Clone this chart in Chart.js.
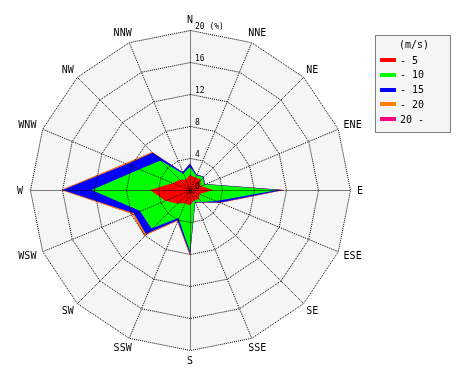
<!DOCTYPE html>
<html>
<head>
<meta charset="utf-8">
<script src="https://cdn.jsdelivr.net/npm/chart.js@4/dist/chart.umd.min.js"></script>
<style>
  body { margin: 0; background: #fff; }
  #wrap { width: 470px; height: 380px; }
</style>
</head>
<body>
<div id="wrap"><canvas id="rose" width="470" height="380"></canvas></div>
<script>
// Wind directions, clockwise from north
const directions = ["N", "NNE", "NE", "ENE", "E", "ESE", "SE", "SSE", "S", "SSW", "SW", "WSW", "W", "WNW", "NW", "NNW"]

// Speed classes (m/s) and their colours
const speedLabels = ["- 5", "- 10", "- 15", "- 20", "20 -"]
const speedColors = ["#ff0000", "#00ff00", "#0000ff", "#ff8000", "#ff0080"]

// Cumulative frequency (%) per direction
const upTo5 = [1.9, 1.7, 1.9, 1.4, 2.9, 1.3, 1.6, 1.4, 1.9, 1.8, 2.4, 3.4, 5.0, 2.3, 1.8, 1.4]
const upTo10 = [2.9, 2.0, 2.3, 1.9, 11.0, 3.6, 2.1, 1.6, 7.7, 3.8, 6.8, 6.8, 12.3, 6.8, 5.2, 2.2]
const upTo15 = [3.3, 2.1, 2.4, 2.0, 11.6, 4.1, 2.2, 1.7, 8.0, 4.1, 7.8, 7.6, 15.9, 8.5, 6.6, 2.4]
const upTo20 = [3.3, 2.1, 2.4, 2.0, 11.8, 4.2, 2.2, 1.7, 8.2, 4.2, 8.1, 7.8, 16.1, 8.7, 6.7, 2.4]
const above20 = [3.3, 2.1, 2.4, 2.0, 11.8, 4.2, 2.2, 1.7, 8.2, 4.2, 8.1, 7.8, 16.1, 8.7, 6.7, 2.4]

// Radial axis tick labels
const tickValues = [0, 4, 8, 12, 16, 20]

const series = [upTo5, upTo10, upTo15, upTo20, above20]
const MONO = '"DejaVu Sans Mono", monospace'

// Light gray plot face under the data; grid drawn on top gets a half-pixel shift so the dots stay crisp
const faceBackground = {
  id: "faceBackground",
  beforeDatasetsDraw(chart) {
    const r = chart.scales.r
    const ctx = chart.ctx
    ctx.save()
    ctx.beginPath()
    directions.forEach((d, i) => {
      const p = r.getPointPosition(i, r.drawingArea)
      if (i === 0) ctx.moveTo(p.x, p.y)
      else ctx.lineTo(p.x, p.y)
    })
    ctx.closePath()
    ctx.fillStyle = "#f5f5f5"
    ctx.fill()
    ctx.restore()
  },
  afterDatasetsDraw(chart) {
    chart.ctx.save()
    chart.ctx.translate(0.5, 0.5)
  },
}

// Direction names, tick numbers and the speed legend
const roseText = {
  id: "roseText",
  afterDraw(chart) {
    const r = chart.scales.r
    const ctx = chart.ctx
    ctx.restore() // undo the grid shift
    ctx.save()
    ctx.fillStyle = "#000"

    // direction labels
    ctx.font = "10px " + MONO
    ctx.textAlign = "center"
    ctx.textBaseline = "alphabetic"
    directions.forEach((d, i) => {
      const p = r.getPointPosition(i, r.drawingArea)
      const ux = (p.x - r.xCenter) / r.drawingArea
      const uy = (p.y - r.yCenter) / r.drawingArea
      const w = ctx.measureText(d).width
      const cx = p.x + ux * (w / 2 + 7)
      const cy = p.y + uy * (3.5 + 7)
      ctx.fillText(d, cx, cy + 3.6)
    })

    // tick numbers along the north axis
    ctx.font = "8px " + MONO
    ctx.textAlign = "left"
    tickValues.forEach((v) => {
      const p = r.getPointPositionForValue(0, v)
      const txt = v === 20 ? v + " (%)" : String(v)
      ctx.fillText(txt, p.x + 5, p.y - 1)
    })

    // legend box
    const lx = 375.5, ly = 35.5, lw = 75, lh = 97
    ctx.fillStyle = "#f5f5f5"
    ctx.fillRect(lx, ly, lw, lh)
    ctx.strokeStyle = "#000"
    ctx.lineWidth = 1
    ctx.setLineDash([1, 1])
    ctx.strokeRect(lx, ly, lw, lh)
    ctx.setLineDash([])

    ctx.fillStyle = "#000"
    ctx.font = "10px " + MONO
    ctx.textAlign = "center"
    ctx.fillText("(m/s)", 414, 48)
    ctx.textAlign = "left"
    chart.data.datasets.forEach((ds, i) => {
      const y = 60 + i * 14.75
      ctx.fillStyle = ds.backgroundColor
      ctx.fillRect(380, Math.round(y) - 2, 16, 4)
      ctx.fillStyle = "#000"
      ctx.fillText(ds.label, 400, y + 3.5)
    })
    ctx.restore()
  },
}

document.addEventListener("DOMContentLoaded", () => {
  const canvas = document.getElementById("rose")

  new Chart(canvas, {
    type: "radar",
    data: {
      labels: directions,
      datasets: series.map((values, i) => ({
        label: speedLabels[i],
        data: values,
        backgroundColor: speedColors[i],
        borderColor: speedColors[i],
        borderWidth: 0,
        pointRadius: 0,
        fill: "origin",
        tension: 0,
      })),
    },
    options: {
      responsive: false,
      animation: false,
      layout: {
        padding: { left: 30, top: 30, right: 120, bottom: 30 },
      },
      scales: {
        r: {
          min: 0,
          max: 20,
          startAngle: 0,
          ticks: { display: false, stepSize: 4 },
          pointLabels: { display: false },
          grid: { color: "#000", lineWidth: 1, circular: false, z: 1, borderDash: [1, 1] },
          border: { dash: [1, 1] },
          angleLines: { color: "#000", lineWidth: 1, borderDash: [1, 1] },
        },
      },
      plugins: {
        legend: { display: false },
        tooltip: { enabled: false },
      },
    },
    plugins: [faceBackground, roseText],
  })
})
</script>
</body>
</html>
